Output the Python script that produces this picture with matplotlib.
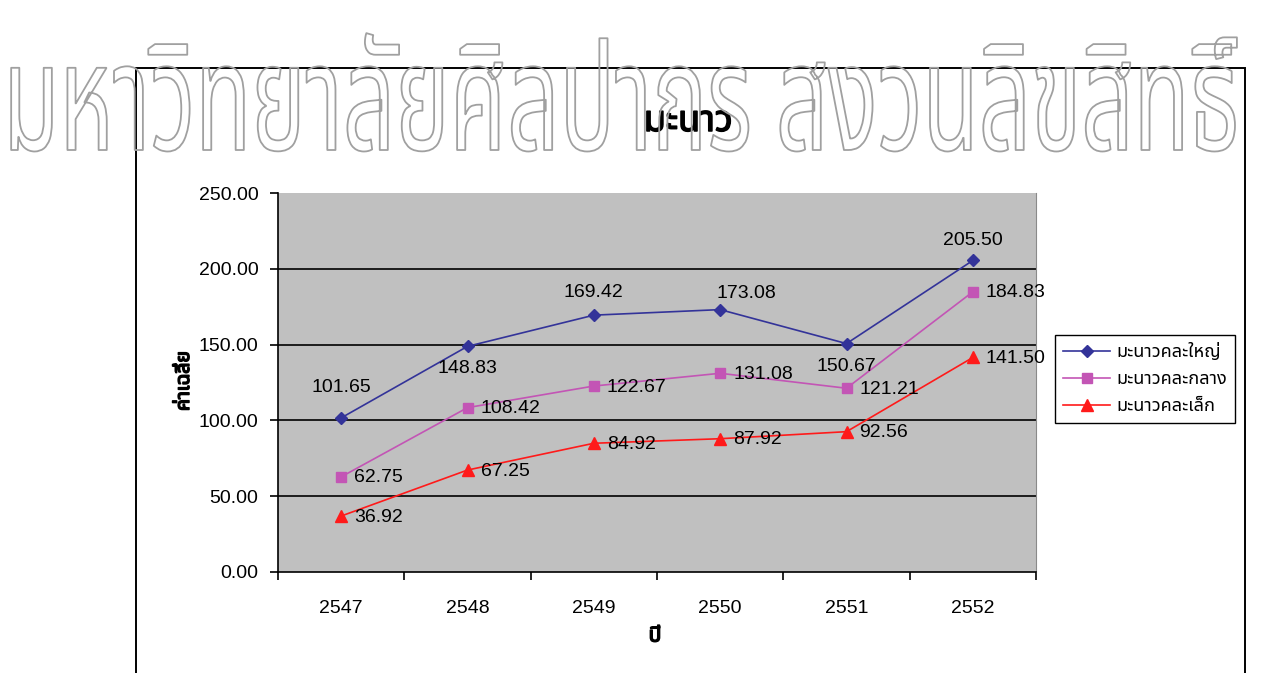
import matplotlib
matplotlib.use("Agg")
import matplotlib.pyplot as plt
import matplotlib.font_manager as fm
from matplotlib.ft2font import FT2Font
from matplotlib import patheffects
from matplotlib.transforms import Affine2D
from matplotlib.patches import Rectangle

# ---------------- data ----------------
years = ["2547", "2548", "2549", "2550", "2551", "2552"]
large = [101.65, 148.83, 169.42, 173.08, 150.67, 205.50]
medium = [62.75, 108.42, 122.67, 131.08, 121.21, 184.83]
small = [36.92, 67.25, 84.92, 87.92, 92.56, 141.50]
series_names = ["มะนาวคละใหญ่", "มะนาวคละกลาง", "มะนาวคละเล็ก"]
y_ticks = [0, 50, 100, 150, 200, 250]
title = "มะนาว"
x_label = "ปี"
y_label = "ค่าเฉลี่ย"
watermark = "มหาวิทยาลัยศิลปากร สงวนลิขสิทธิ์"

# ---------------- fonts ----------------
thai_fonts = []
for f in fm.fontManager.ttflist:
    try:
        cm = FT2Font(f.fname).get_charmap()
    except Exception:
        continue
    if 0x0E21 in cm and 0x0E30 in cm and f.name not in thai_fonts:
        thai_fonts.append(f.name)
pref = ["Noto Sans Thai", "Noto Sans Thai UI", "Loma", "Garuda", "Tlwg Typo",
        "Norasi", "Kinnari", "Waree", "Sawasdee", "Umpush", "Laksaman"]
thai = None
for p in pref:
    if p in thai_fonts:
        thai = p
        break
if thai is None and thai_fonts:
    thai = thai_fonts[0]
fam = ["Liberation Sans"] + ([thai] if thai else []) + ["DejaVu Sans"]
thai_fam = ([thai] if thai else []) + ["DejaVu Sans"]
plt.rcParams["font.family"] = fam

W, H = 1263, 673
fig = plt.figure(figsize=(W / 100, H / 100), dpi=100)
fig.patch.set_facecolor("white")

def fx(px):
    return px / W

def fy(py):
    return 1 - py / H

# outer chart frame
fig.patches.append(Rectangle((fx(136), -0.02), fx(1245) - fx(136), fy(68) + 0.02,
                             transform=fig.transFigure, fill=False,
                             edgecolor="black", linewidth=1.4, zorder=1))

ax = fig.add_axes([fx(278), fy(572), fx(1036) - fx(278), fy(193) - fy(572)])
ax.set_facecolor("#C0C0C0")
x = list(range(len(years)))

colors = ["#333399", "#C355B5", "#FF1A1A"]
markers = ["D", "s", "^"]
msizes = [6.5, 7.5, 8.5]
for vals, name, c, m, ms in zip([large, medium, small], series_names, colors, markers, msizes):
    ax.plot(x, vals, color=c, marker=m, markersize=ms, markeredgecolor=c,
            linewidth=1.2, label=name, zorder=3)

FS = 14
ax.set_xlim(-0.5, len(years) - 0.5)
ax.set_ylim(y_ticks[0], y_ticks[-1])
ax.set_yticks(y_ticks)
ax.set_yticklabels([f"{v:.2f}" for v in y_ticks], fontsize=FS)
ax.set_xticks([i - 0.5 for i in range(len(years) + 1)])
ax.set_xticklabels([])
ax.set_xticks(x, minor=True)
ax.set_xticklabels(years, minor=True, fontsize=FS)
ax.tick_params(axis="x", which="major", direction="out", length=6, width=1.2, color="black")
ax.tick_params(axis="x", which="minor", length=0, pad=20)
ax.tick_params(axis="y", direction="out", length=6, width=1.2, color="black", pad=8)

ax.grid(axis="y", color="black", linewidth=1.2, zorder=1)
ax.set_axisbelow(True)
fig.canvas.draw()
glines = ax.get_ygridlines()
glines[0].set_visible(False)
glines[-1].set_visible(False)

ax.spines["top"].set_visible(False)
ax.spines["right"].set_color("#8a8a8a")
ax.spines["right"].set_linewidth(0.8)
ax.spines["left"].set_linewidth(1.2)
ax.spines["bottom"].set_linewidth(1.2)

# data labels
large_off = [(0, 30), (0, -22), (0, 23), (26, 16), (0, -23), (0, 20)]
for i, v in enumerate(large):
    ax.annotate(f"{v:.2f}", (x[i], v), xytext=large_off[i], textcoords="offset pixels",
                ha="center", va="center", fontsize=FS, zorder=5)
for series in (medium, small):
    for i, v in enumerate(series):
        ax.annotate(f"{v:.2f}", (x[i], v), xytext=(13, -1), textcoords="offset pixels",
                    ha="left", va="center", fontsize=FS, zorder=5)

bold = [patheffects.withStroke(linewidth=1.1, foreground="black")]
fig.text(fx(688), fy(122), title, ha="center", va="center", fontsize=26,
         family=thai_fam, path_effects=bold)
fig.text(fx(655), fy(636), x_label, ha="center", va="center", fontsize=15,
         family=thai_fam, path_effects=bold)
fig.text(fx(184), fy(381), y_label, ha="center", va="center", fontsize=14,
         rotation=90, family=thai_fam, path_effects=bold)

leg = ax.legend(loc="upper left", bbox_to_anchor=(fx(1055), fy(335)),
                bbox_transform=fig.transFigure, borderaxespad=0, fancybox=False,
                frameon=True, edgecolor="black", framealpha=1, facecolor="white",
                prop={"family": thai_fam, "size": 13}, handlelength=2.6,
                handletextpad=0.35, labelspacing=0.5, borderpad=0.45)
leg.get_frame().set_linewidth(1.0)


class StretchOutline(patheffects.AbstractPathEffect):
    def __init__(self, sx, sy, lw, color):
        super().__init__()
        self.sx, self.sy, self.lw, self.color = sx, sy, lw, color

    def draw_path(self, renderer, gc, tpath, affine, rgbFace=None):
        gc0 = renderer.new_gc()
        gc0.copy_properties(gc)
        gc0.set_foreground(self.color)
        gc0.set_linewidth(self.lw)
        renderer.draw_path(gc0, tpath, Affine2D().scale(self.sx, self.sy) + affine, None)
        gc0.restore()


fig.text(fx(3), fy(150), watermark, ha="left", va="baseline", fontsize=60,
         family=thai_fam, color="#999999", zorder=10,
         path_effects=[StretchOutline(1.1, 1.8, 1.3, "#a0a0a0")])

fig.savefig("out.png", dpi=100)
